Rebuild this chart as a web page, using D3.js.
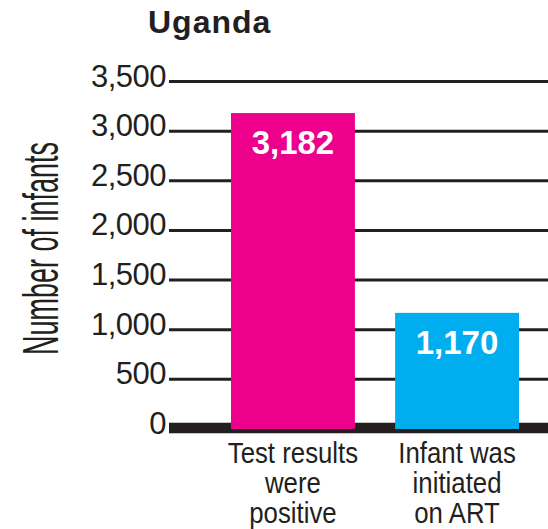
<!DOCTYPE html>
<html>
<head>
<meta charset="utf-8">
<script src="https://cdn.jsdelivr.net/npm/d3@7"></script>
<style>
  body { margin: 0; background: #fff; }
  svg { display: block; }
  text { fill: #231f20; }
</style>
</head>
<body>
<svg id="chart"></svg>
<script>
// données
var country = "Uganda";
var categories = [["Test results", "were", "positive"], ["Infant was", "initiated", "on ART"]];
var values = [3182, 1170];
var colors = ["#ec008c", "#00aeef"];
var yTicks = [0, 500, 1000, 1500, 2000, 2500, 3000, 3500];
var yTitle = "Number of infants";

// taille du cadre
var width = 548,
    height = 529;

var svg = d3.select("#chart")
    .attr("width", width)
    .attr("height", height);

var y = d3.scaleLinear().domain([0, 3500]).range([429, 81.5]);
var x = d3.scaleBand()
    .domain(d3.range(values.length))
    .range([231, 519])
    .paddingInner(0.245)
    .paddingOuter(0);

var fmt = d3.format(",");

// titre
svg.append("text")
    .attr("x", 148)
    .attr("y", 33)
    .attr("font-family", "'Liberation Sans', Arial, sans-serif")
    .attr("font-weight", "bold")
    .attr("font-size", 32)
    .attr("letter-spacing", 1)
    .text(country);

// titre de l'axe y : police très condensée, on étire via scale
var yt = svg.append("text")
    .attr("text-anchor", "middle")
    .attr("font-family", "'Liberation Sans', Arial, sans-serif")
    .attr("font-size", 50)
    .text(yTitle);
var sx = 213 / yt.node().getComputedTextLength();
yt.attr("transform", `translate(58,248.5) rotate(-90) scale(${sx},1)`);

// lignes de grille
svg.selectAll("line.grid")
    .data(yTicks.filter(d => d > 0))
    .enter()
    .append("line")
    .attr("class", "grid")
    .attr("x1", 169)
    .attr("x2", width)
    .attr("y1", d => y(d))
    .attr("y2", d => y(d))
    .attr("stroke", "#231f20")
    .attr("stroke-width", 3);

// ligne de base
svg.append("line")
    .attr("x1", 169)
    .attr("x2", width)
    .attr("y1", y(0) - 1)
    .attr("y2", y(0) - 1)
    .attr("stroke", "#231f20")
    .attr("stroke-width", 10.5);

// étiquettes de l'axe y
svg.selectAll("text.tick")
    .data(yTicks)
    .enter()
    .append("text")
    .attr("class", "tick")
    .attr("x", 166)
    .attr("y", d => y(d) + 5)
    .attr("text-anchor", "end")
    .attr("font-family", "'Liberation Sans', Arial, sans-serif")
    .attr("font-size", 31)
    .attr("letter-spacing", -0.5)
    .text(d => fmt(d));

// barres
svg.selectAll("rect.bar")
    .data(values)
    .enter()
    .append("rect")
    .attr("class", "bar")
    .attr("x", (d, i) => x(i))
    .attr("width", x.bandwidth())
    .attr("y", d => y(d))
    .attr("height", d => y(0) - y(d))
    .attr("fill", (d, i) => colors[i]);

// valeurs
svg.selectAll("text.value")
    .data(values)
    .enter()
    .append("text")
    .attr("class", "value")
    .attr("x", (d, i) => x(i) + x.bandwidth() / 2)
    .attr("y", d => y(d) + 41)
    .attr("text-anchor", "middle")
    .attr("font-family", "'Liberation Sans', Arial, sans-serif")
    .attr("font-weight", "bold")
    .attr("font-size", 33)
    .style("fill", "#fff")
    .text(d => fmt(d));

// catégories (police condensée simulée)
var cat = svg.selectAll("text.cat")
    .data(categories)
    .enter()
    .append("text")
    .attr("class", "cat")
    .attr("transform", (d, i) => `translate(${x(i) + x.bandwidth() / 2},0) scale(0.86,1)`)
    .attr("text-anchor", "middle")
    .attr("font-family", "'Liberation Sans', Arial, sans-serif")
    .attr("font-size", 30);

cat.selectAll("tspan")
    .data(d => d)
    .enter()
    .append("tspan")
    .attr("x", 0)
    .attr("y", (d, j) => 463 + j * 30)
    .text(d => d);
</script>
</body>
</html>
